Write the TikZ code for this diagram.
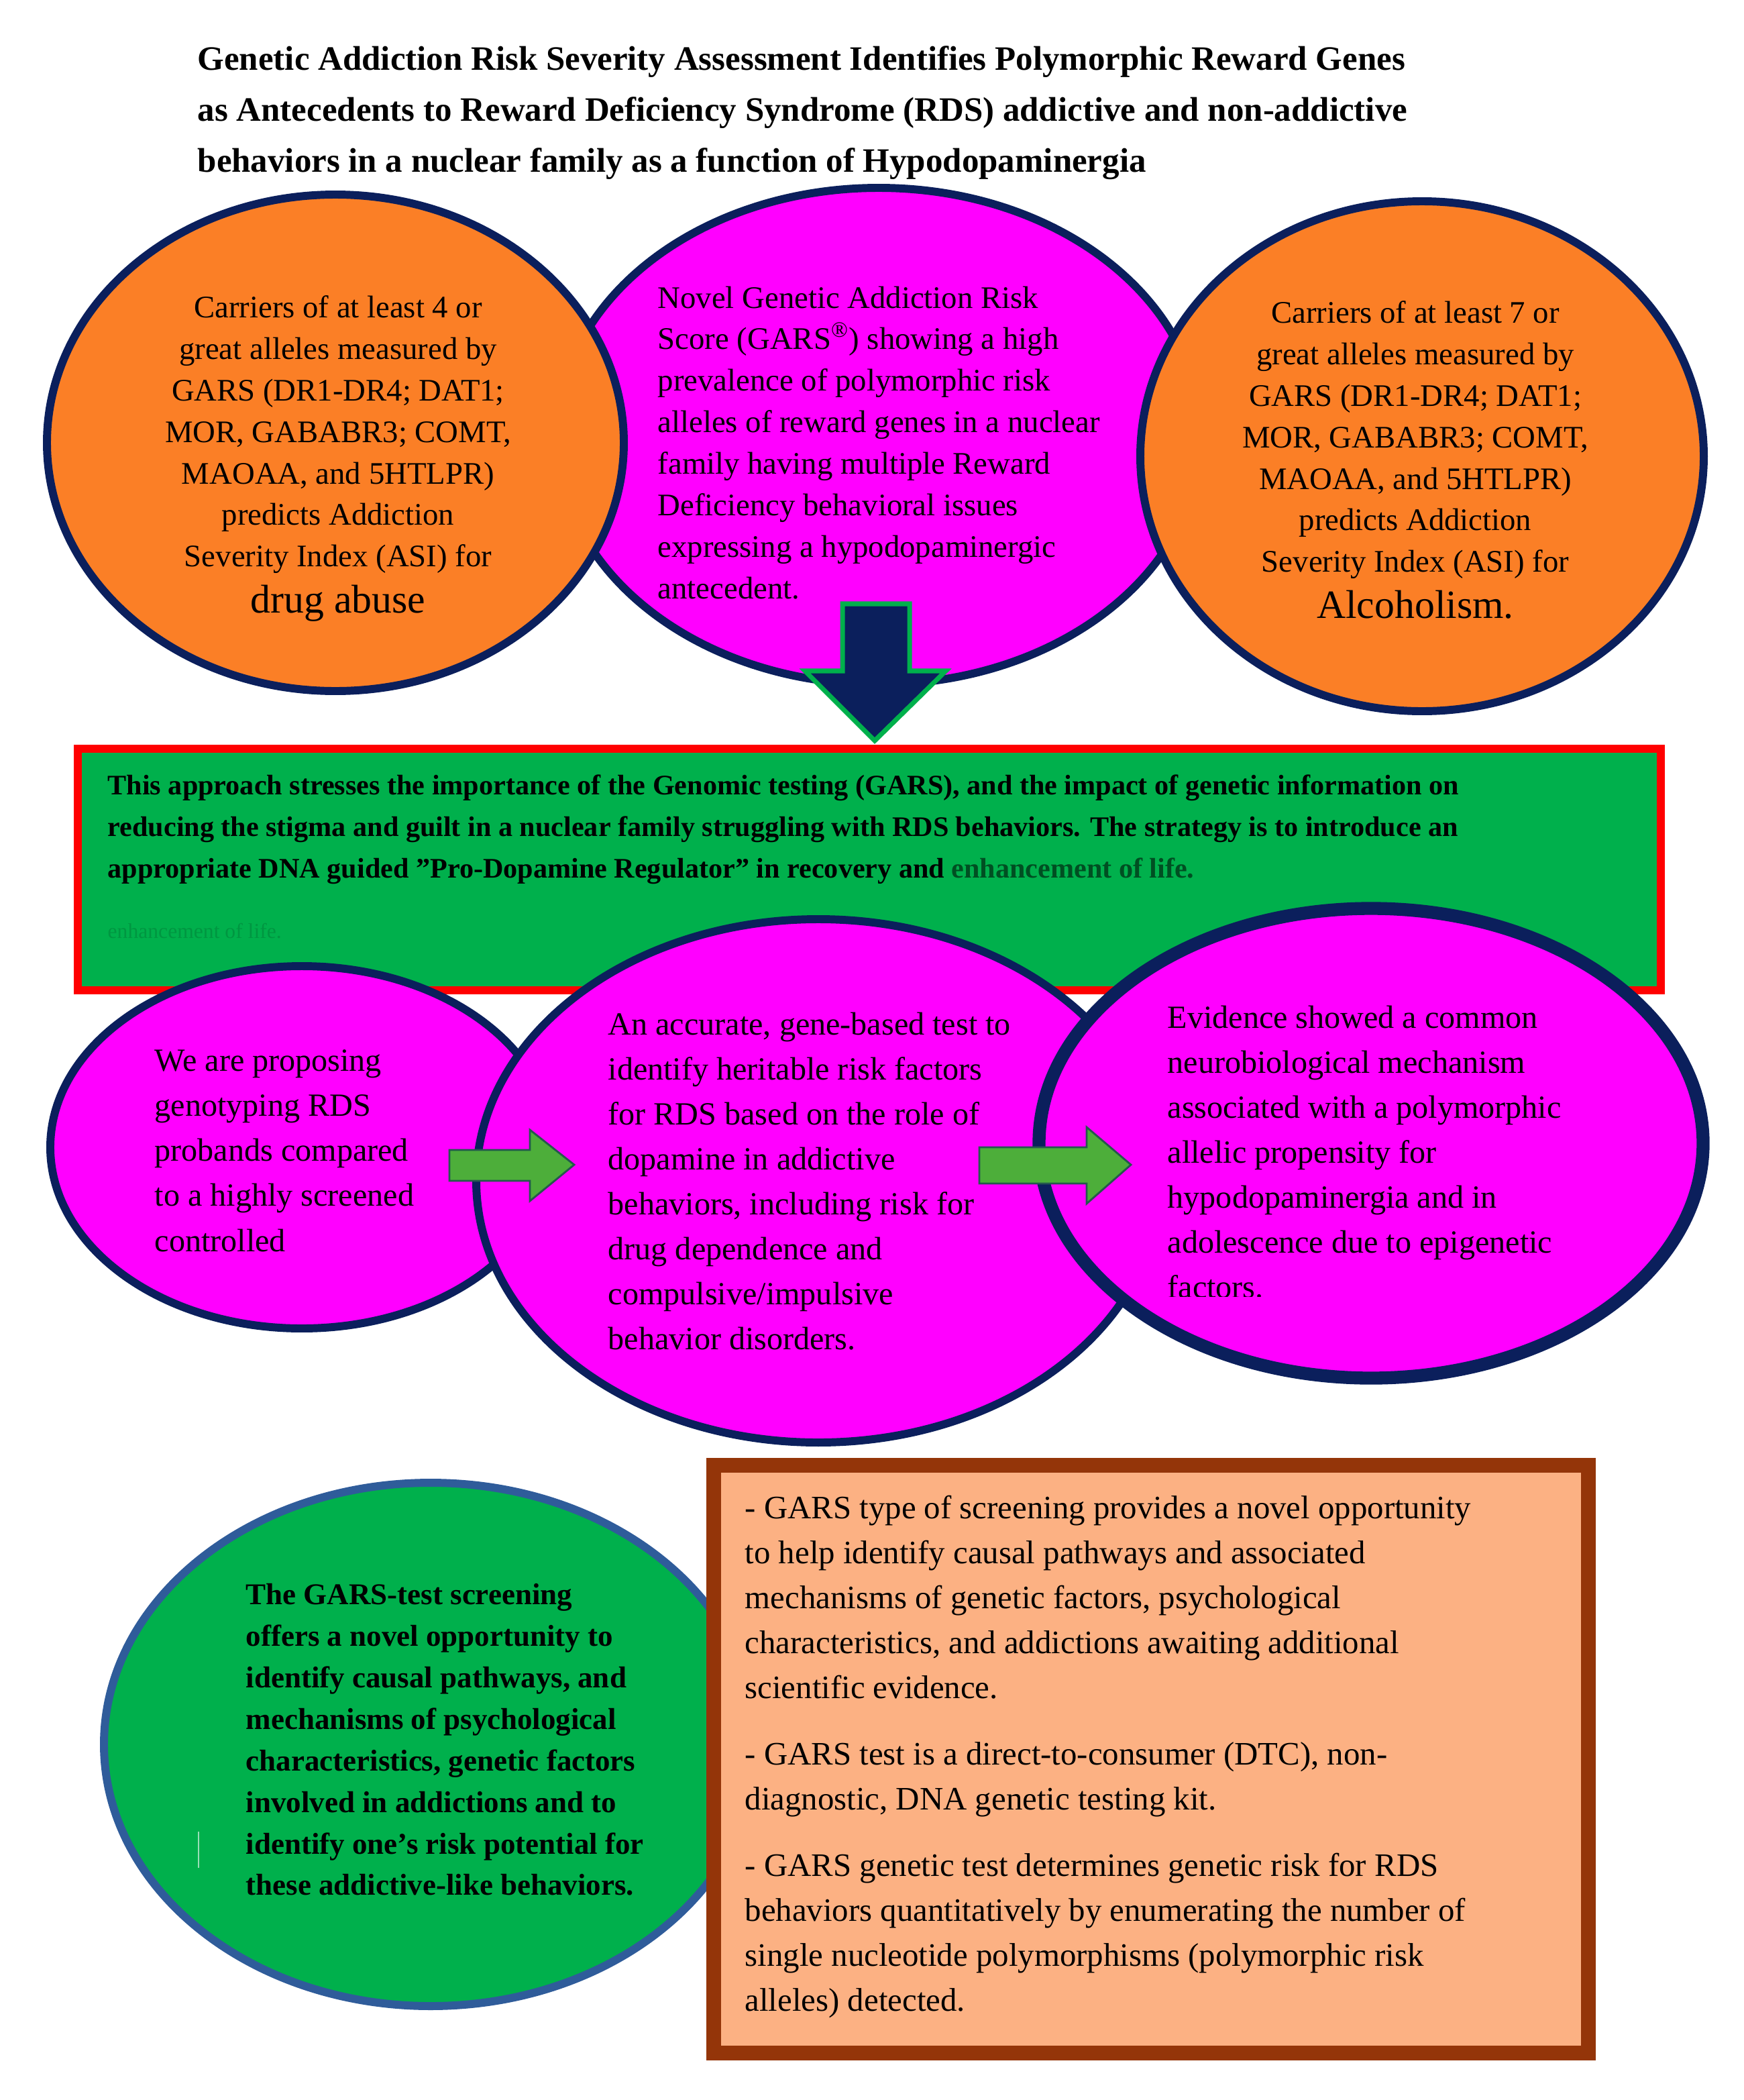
\documentclass[tikz,border=0pt]{standalone}
\usepackage{fontspec}
\setmainfont{Liberation Serif}
\usetikzlibrary{shapes.geometric}
\definecolor{org}{HTML}{FB7F26}
\definecolor{mag}{HTML}{FF00FF}
\definecolor{navy}{HTML}{0B1F5C}
\definecolor{grn}{HTML}{00B04C}
\definecolor{agrn}{HTML}{4DAE3A}
\definecolor{bblue}{HTML}{2F5C9A}
\definecolor{peach}{HTML}{FCB183}
\definecolor{brown}{HTML}{943509}
\begin{document}
\begin{tikzpicture}[x=0.02cm,y=-0.02cm,
  ell/.style={ellipse,draw=navy,line width=3.4pt,inner sep=0pt},
  sz/.style 2 args={minimum width=#1*0.02cm,minimum height=#2*0.02cm},
  txt/.style={anchor=north west,inner sep=0pt,align=left},
  ctxt/.style={anchor=north,inner sep=0pt,align=center},
  f13/.style={font=\fontsize{13.3}{17.6}\selectfont},
  f13b/.style={font=\fontsize{13.7}{19.1}\selectfont}]
\useasboundingbox (0,0) rectangle (1300,1565);
% title
\node[txt,font=\bfseries\fontsize{14.5}{21.6}\selectfont] (title) at (147,34)
 {Genetic Addiction Risk Severity Assessment Identifies Polymorphic Reward Genes\\
  as Antecedents to Reward Deficiency Syndrome (RDS) addictive and non-addictive\\
  behaviors in a nuclear family as a function of Hypodopaminergia};
% top row
\node[ell,fill=mag,sz={480}{370}] (tm) at (655,325) {};
\node[ell,fill=org,sz={430}{370}] (tl) at (250,330) {};
\node[ell,fill=org,sz={420}{380}] (tr) at (1060,340) {};
\node[txt,f13] (tmt) at (490,213) {Novel Genetic Addiction Risk\\Score (GARS\textsuperscript{®}) showing a high\\prevalence of polymorphic risk\\alleles of reward genes in a nuclear\\family having multiple Reward\\Deficiency behavioral issues\\expressing a hypodopaminergic\\antecedent.};
\node[ctxt,f13] (tlt) at (252,220) {Carriers of at least 4 or\\great alleles measured by\\GARS (DR1-DR4; DAT1;\\MOR, GABABR3; COMT,\\MAOAA, and 5HTLPR)\\predicts Addiction\\Severity Index (ASI) for\\[2pt]{\fontsize{17}{20}\selectfont drug abuse}};
\node[ctxt,f13] (trt) at (1055,224) {Carriers of at least 7 or\\great alleles measured by\\GARS (DR1-DR4; DAT1;\\MOR, GABABR3; COMT,\\MAOAA, and 5HTLPR)\\predicts Addiction\\Severity Index (ASI) for\\[2pt]{\fontsize{17}{20}\selectfont Alcoholism.}};
% down arrow
\draw[draw=grn,fill=navy,line width=2pt,line join=miter] (628,450) -- (678,450) -- (678,500) -- (705,500) -- (652,552) -- (600,500) -- (628,500) -- cycle;
% green rect
\node[draw=red,fill=grn,line width=3.4pt,sz={1180}{180},inner sep=0pt] (box) at (648,648) {};
\node[txt,font=\bfseries\fontsize{12}{17.6}\selectfont] (boxt) at (80,577)
 {This approach stresses the importance of the Genomic testing (GARS), and the impact of genetic information on\\
  reducing the stigma and guilt in a nuclear family struggling with RDS behaviors. The strategy is to introduce an\\
  appropriate DNA guided "Pro-Dopamine Regulator" in recovery and \textcolor{black!55!grn}{enhancement of life.}};
\node[txt,font=\fontsize{9}{11}\selectfont,text=black!15!grn] (faint) at (80,688) {enhancement of life.};
% bottom row
\node[ell,fill=mag,sz={375}{270}] (bl) at (225,855) {};
\node[ell,fill=mag,sz={510}{390}] (bm) at (610,880) {};
\node[ell,fill=mag,line width=5.5pt,sz={495}{350}] (br) at (1022,852) {};
\node[txt,f13b] (blt) at (115,782) {We are proposing\\genotyping RDS\\probands compared\\to a highly screened\\controlled};
\begin{scope}
\clip (440,740) rectangle (860,1006);
\node[txt,f13b] (bmt) at (453,754) {An accurate, gene-based test to\\identify heritable risk factors\\for RDS based on the role of\\dopamine in addictive\\behaviors, including risk for\\drug dependence and\\compulsive/impulsive\\behavior disorders.};
\end{scope}
\begin{scope}
\clip (860,740) rectangle (1190,966);
\node[txt,f13b] (brt) at (870,749) {Evidence showed a common\\neurobiological mechanism\\associated with a polymorphic\\allelic propensity for\\hypodopaminergia and in\\adolescence due to epigenetic\\factors.};
\end{scope}
% right arrows
\draw[draw=navy!60!agrn,fill=agrn,line width=0.8pt] (335,857) -- (395,857) -- (395,842) -- (428,868) -- (395,895) -- (395,880) -- (335,880) -- cycle;
\draw[draw=navy!60!agrn,fill=agrn,line width=0.8pt] (730,855) -- (810,855) -- (810,840) -- (843,868) -- (810,897) -- (810,882) -- (730,882) -- cycle;
% bottom left ellipse
\node[ellipse,draw=bblue,fill=grn,line width=3.4pt,sz={487}{390},inner sep=0pt] (gl) at (321,1300) {};
\node[txt,font=\bfseries\fontsize{12.8}{17.6}\selectfont] (glt) at (183,1180) {The GARS-test screening\\offers a novel opportunity to\\identify causal pathways, and\\mechanisms of psychological\\characteristics, genetic factors\\involved in addictions and to\\identify one’s risk potential for\\these addictive-like behaviors.};
\draw[white!60!grn,line width=0.8pt] (148,1365) coordinate (m1) -- (148,1392) coordinate (m2);
% orange box
\node[draw=brown,fill=peach,line width=6pt,sz={652}{438},inner sep=0pt] (ob) at (858,1311) {};
\node[txt,font=\fontsize{13.9}{19.1}\selectfont] (obt) at (555,1114) {- GARS type of screening provides a novel opportunity\\to help identify causal pathways and associated\\mechanisms of genetic factors, psychological\\characteristics, and addictions awaiting additional\\scientific evidence.\\[9pt]
- GARS test is a direct-to-consumer (DTC), non-\\diagnostic, DNA genetic testing kit.\\[9pt]
- GARS genetic test determines genetic risk for RDS\\behaviors quantitatively by enumerating the number of\\single nucleotide polymorphisms (polymorphic risk\\alleles) detected.};
\end{tikzpicture}
\end{document}
